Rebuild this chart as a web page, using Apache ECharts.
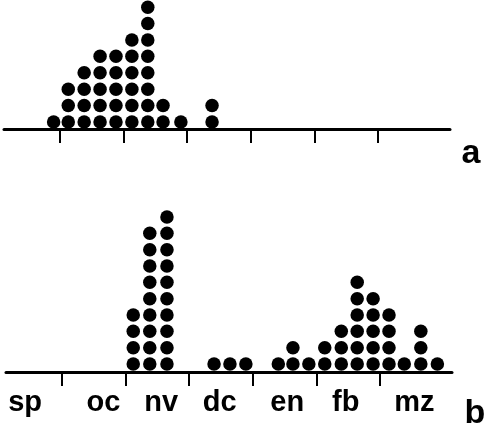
<!DOCTYPE html>
<html>
<head>
<meta charset="utf-8">
<script src="https://cdn.jsdelivr.net/npm/echarts@6/dist/echarts.min.js"></script>
<style>
html,body{margin:0;padding:0;background:#fff;}
#chart{width:485px;height:428px;}
</style>
</head>
<body>
<div id="chart"></div>
<script>
// Month labels and tick marks (month boundaries), in month units (0 = start of sp)
const monthLabels = ['sp', 'oc', 'nv', 'dc', 'en', 'fb', 'mz'];
const labelPos = [0.42, 1.65, 2.56, 3.48, 4.54, 5.46, 6.54];
const monthBounds = [1, 2, 3, 4, 5, 6];

// Panel a: weekly columns (position in months) and number of dots
const weekPosA = [0.90, 1.13, 1.38, 1.63, 1.88, 2.13, 2.38, 2.62, 2.90, 3.39];
const countA   = [1, 3, 4, 5, 5, 6, 8, 2, 1, 2];

// Panel b
const weekPosB = [2.12, 2.38, 2.65, 3.39, 3.64, 3.89, 4.40, 4.63, 4.88, 5.13, 5.39, 5.64, 5.89, 6.14, 6.38, 6.64, 6.90];
const countB   = [4, 9, 10, 1, 1, 1, 1, 2, 1, 2, 3, 6, 5, 4, 1, 3, 1];

function stackDots(pos, counts) {
  const out = [];
  pos.forEach((x, i) => {
    for (let k = 0; k < counts[i]; k++) out.push([x, k]);
  });
  return out;
}

const chart = echarts.init(document.getElementById('chart'), null, {renderer: 'canvas'});

function xAxisCfg(idx, showLabels) {
  return {
    gridIndex: idx,
    type: 'value',
    min: 0.12,
    max: 7.13,
    splitLine: {show: false},
    axisLine: {show: true, onZero: false, lineStyle: {color: '#000', width: 3}},
    axisTick: {show: true, customValues: monthBounds, length: 14, inside: false,
               lineStyle: {color: '#000', width: 2}},
    axisLabel: {
      show: showLabels,
      customValues: labelPos,
      formatter: function (v) {
        let best = 0, bd = 1e9;
        labelPos.forEach((p, i) => { const d = Math.abs(p - v); if (d < bd) { bd = d; best = i; } });
        return monthLabels[best];
      },
      color: '#000',
      fontFamily: 'Liberation Sans, Arial, sans-serif',
      fontWeight: 'bold',
      fontSize: 29,
      lineHeight: 29,
      margin: 16
    }
  };
}

const option = {
  animation: false,
  backgroundColor: '#fff',
  grid: [
    {left: 4, width: 446, top: 0, height: 129},
    {left: 6, width: 446, top: 200, height: 172}
  ],
  xAxis: [xAxisCfg(0, false), xAxisCfg(1, true)],
  yAxis: [
    {gridIndex: 0, type: 'value', min: -0.43, max: 7.436, show: false},
    {gridIndex: 1, type: 'value', min: -0.49, max: 10.04, show: false}
  ],
  series: [
    {type: 'scatter', xAxisIndex: 0, yAxisIndex: 0, data: stackDots(weekPosA, countA),
     symbol: 'circle', symbolSize: 13.5, itemStyle: {color: '#000', opacity: 1}, clip: false, silent: true},
    {type: 'scatter', xAxisIndex: 1, yAxisIndex: 1, data: stackDots(weekPosB, countB),
     symbol: 'circle', symbolSize: 13.5, itemStyle: {color: '#000', opacity: 1}, clip: false, silent: true}
  ],
  graphic: [
    {type: 'text', style: {x: 471, y: 154, text: 'a', fill: '#000',
      font: 'bold 34px "Liberation Sans Narrow", "Liberation Sans", Arial, sans-serif',
      textAlign: 'center', textVerticalAlign: 'middle'}},
    {type: 'text', style: {x: 475, y: 414, text: 'b', fill: '#000',
      font: 'bold 34px "Liberation Sans Narrow", "Liberation Sans", Arial, sans-serif',
      textAlign: 'center', textVerticalAlign: 'middle'}}
  ]
};
chart.setOption(option);
</script>
</body>
</html>
